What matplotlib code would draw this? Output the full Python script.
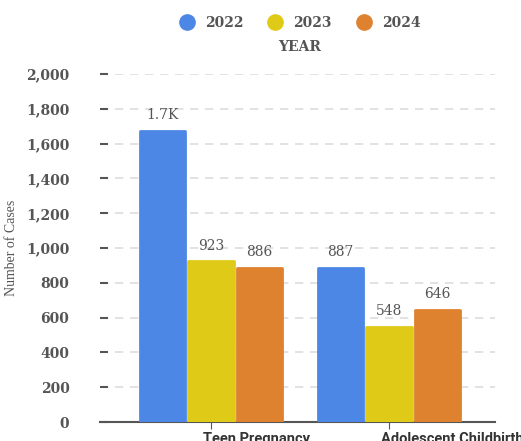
import numpy as np
import matplotlib.pyplot as plt
import matplotlib.transforms as mtrans
from matplotlib.lines import Line2D

categories = ["Teen Pregnancy", "Adolescent Childbirth"]
years = ["2022", "2023", "2024"]
values_2022 = [1672, 887]
values_2023 = [923, 548]
values_2024 = [886, 646]
labels_2022 = ["1.7K", "887"]
labels_2023 = ["923", "548"]
labels_2024 = ["886", "646"]
colors = ["#4d87e6", "#dfcb17", "#df8230"]

series = [values_2022, values_2023, values_2024]
series_labels = [labels_2022, labels_2023, labels_2024]

fig = plt.figure(figsize=(5.21, 4.41), dpi=100)
ax = fig.add_axes([0.192, 0.043, 0.758, 0.789])

x = np.arange(len(categories))
step = 0.272
width = 0.255
for i, (vals, labs) in enumerate(zip(series, series_labels)):
    pos = x + (i - 1) * step
    bars = ax.bar(pos, vals, width=width, color=colors[i], edgecolor=colors[i],
                  linewidth=2, zorder=3)
    for b in bars:
        b.set_joinstyle("round")
    for p, v, t in zip(pos, vals, labs):
        ax.text(p, v + 50, t, ha="center", va="bottom", fontsize=10,
                family="DejaVu Serif", color="#555555", zorder=4)

ax.set_xlim(-0.624, 1.596)
ax.set_ylim(0, 2000)
ax.set_yticks(np.arange(0, 2001, 200))
ax.set_yticklabels([f"{v:,}" for v in range(0, 2001, 200)],
                   family="DejaVu Serif", fontweight="bold", fontsize=10,
                   color="#555555")
ax.tick_params(axis="y", direction="in", length=6, width=1.5, color="#555555", pad=22)
ax.yaxis.grid(True, linestyle=(0, (5, 4)), color="#dddddd", linewidth=1.2, zorder=0)

ax.set_xticks(x)
ax.set_xticklabels(categories, fontweight="bold", fontsize=10.5, color="#333333",
                   family="Roboto", ha="left")
ax.tick_params(axis="x", length=5, color="#555555", pad=2)
offset = mtrans.ScaledTranslation(-8 / 100, 0, fig.dpi_scale_trans)
for lab in ax.get_xticklabels():
    lab.set_transform(lab.get_transform() + offset)

for s in ["top", "right", "left"]:
    ax.spines[s].set_visible(False)
ax.spines["bottom"].set_color("#555555")
ax.spines["bottom"].set_linewidth(1.5)

ax.set_ylabel("Number of Cases", family="Liberation Serif", fontsize=10,
              color="#555555", labelpad=6)

handles = [Line2D([], [], marker="o", linestyle="", markersize=11,
                  markerfacecolor=c, markeredgecolor=c) for c in colors]
leg = fig.legend(handles, years, loc="center", bbox_to_anchor=(0.575, 0.948),
                 ncol=3, frameon=False, handletextpad=0.7, columnspacing=1.7,
                 handlelength=1.2,
                 prop={"family": "DejaVu Serif", "weight": "bold", "size": 10})
for t in leg.get_texts():
    t.set_color("#555555")
fig.text(0.575, 0.893, "YEAR", ha="center", va="center", family="DejaVu Serif",
         fontweight="bold", fontsize=10, color="#555555")

fig.savefig("out.png", dpi=100)
